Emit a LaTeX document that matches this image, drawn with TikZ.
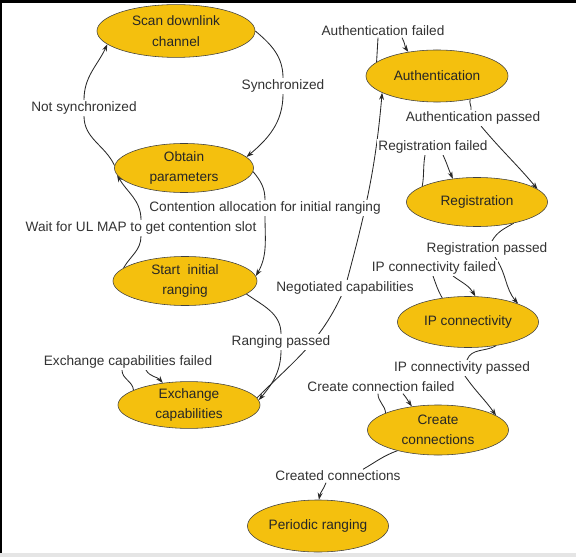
\documentclass[tikz,border=0pt]{standalone}
\usepackage{fontspec}
\setmainfont{Liberation Sans}
\usetikzlibrary{arrows.meta,calc,shapes.geometric,backgrounds}
\definecolor{stategold}{RGB}{244,192,14}
\definecolor{edgegray}{RGB}{40,40,40}

\begin{document}
\begin{tikzpicture}[x=.025cm,y=-.025cm,font=\fontsize{9.7}{11}\selectfont,
    state/.style={ellipse,draw=black!75,fill=stategold,inner sep=0pt,align=center,text=black!85,
      minimum width=3.525cm,minimum height=1.25cm,font=\fontsize{9.7}{14.5}\selectfont},
    lbl/.style={fill=white,inner sep=1pt,text=black!80},
    trans/.style={draw=edgegray,line width=.6pt,-{Stealth[length=5pt,width=3.5pt]}}]
  \useasboundingbox (0,0) rectangle (576,557);
  \fill[black] (0,0) rectangle (576,3);
  \fill[black] (0,0) rectangle (2,557);
  \fill[black!10] (0,553) rectangle (576,557);

  % states
  \node[state,minimum width=3.95cm,minimum height=1.32cm] (scan) at (176,31) {Scan downlink\\channel};
  \node[state,minimum width=3.475cm,minimum height=1.225cm] (obtain) at (184,168) {Obtain\\parameters};
  \node[state,minimum width=3.6cm,minimum height=1.225cm] (start) at (185,281) {Start\ \ initial\\ranging};
  \node[state,minimum width=3.55cm,minimum height=1.15cm] (exch) at (189,405) {Exchange\\capabilities};
  \node[state,minimum width=3.55cm,minimum height=1.3cm] (auth) at (437,76) {Authentication};
  \node[state,minimum height=1.225cm] (reg) at (477,202) {Registration};
  \node[state,minimum height=1.275cm] (ip) at (468,322) {IP connectivity};
  \node[state] (create) at (438,430) {Create\\connections};
  \node[state,minimum height=1.3cm] (periodic) at (318,526) {Periodic ranging};

  % transition labels
  \node[lbl] (notsync) at (84,108) {Not synchronized};
  \node[lbl] (sync) at (283,86) {Synchronized};
  \node[lbl] (authfail) at (383,31) {Authentication failed};
  \node[lbl] (authpass) at (473,118) {Authentication passed};
  \node[lbl] (regfail) at (433,147) {Registration failed};
  \node[lbl] (contention) at (265,208) {Contention allocation for initial ranging};
  \node[lbl] (waitul) at (141,228) {Wait for UL MAP to get contention slot};
  \node[lbl] (regpass) at (487,249) {Registration passed};
  \node[lbl] (ipfail) at (434,268) {IP connectivity failed};
  \node[lbl] (negot) at (345,288) {Negotiated capabilities};
  \node[lbl] (rangpass) at (281,342) {Ranging passed};
  \node[lbl] (exchfail) at (128,362) {Exchange capabilities failed};
  \node[lbl] (ippass) at (462,368) {IP connectivity passed};
  \node[lbl] (createfail) at (381,387) {Create connection failed};
  \node[lbl] (created) at (338,476) {Created connections};

  % transitions
  \begin{scope}[on background layer]
    \draw[trans] (scan.east) to[out=-40,in=90] (sync) to[out=-90,in=40] (obtain.10);
    \draw[trans] (obtain.178) to[out=115,in=-90] (notsync) to[out=90,in=-115] (scan.191);
    \draw[trans] (obtain.-3) to[out=-50,in=90] (contention) to[out=-90,in=60] (start.4);
    \draw[trans] (start.168) to[out=60,in=-90] (waitul) to[out=90,in=-60] (obtain.186);
    \draw[trans] (start.-12) to[out=-35,in=90] (rangpass) to[out=-90,in=50] (exch.4);
    \draw[trans] (exch.6) to[out=45,in=-115] (negot) to[out=75,in=-95] (auth.197);
    \draw[trans] (exch.165) to[out=95,in=-90] ($(exchfail.south)+(-6,0)$)
      ($(exchfail.south)+(18,0)$) to[out=-60,in=130] (exch.140);
    \draw[trans] (auth.167) -- ($(authfail.south)+(-5,0)$)
      ($(authfail.south)+(19,0)$) to[out=-60,in=125] (auth.140);
    \draw[trans] (auth.-35) to[out=-110,in=80] ($(authpass.north)+(-2,0)$)
      ($(authpass.south)+(8,0)$) to[out=-50,in=130] (reg.12);
    \draw[trans] (reg.164) to[out=80,in=-100] ($(regfail.south)+(-8,0)$)
      ($(regfail.south)+(10,0)$) to[out=-65,in=115] (reg.136);
    \draw[trans] (reg.-30) to[out=-150,in=60] ($(regpass.north)+(5,0)$)
      ($(regpass.south)+(8,0)$) to[out=-55,in=130] (ip.20);
    \draw[trans] (ip.137) to[out=120,in=-70] ($(ipfail.south)+(-1,0)$)
      ($(ipfail.south)+(19,0)$) to[out=-35,in=120] (ip.74);
    \draw[trans] (ip.-40) to[out=-150,in=70] ($(ippass.north)+(5,0)$)
      ($(ippass.south)+(3,0)$) to[out=-55,in=125] (create.14);
    \draw[trans] (create.162) to[out=95,in=-90] ($(createfail.south)+(-3,0)$)
      ($(createfail.south)+(22,0)$) to[out=-50,in=125] (create.138);
    \draw[trans] (create.207) to[out=200,in=30] ($(created.north)+(25,0)$)
      ($(created.south)+(-12,0)$) to[out=-110,in=80] (periodic.88);
  \end{scope}
\end{tikzpicture}
\end{document}
